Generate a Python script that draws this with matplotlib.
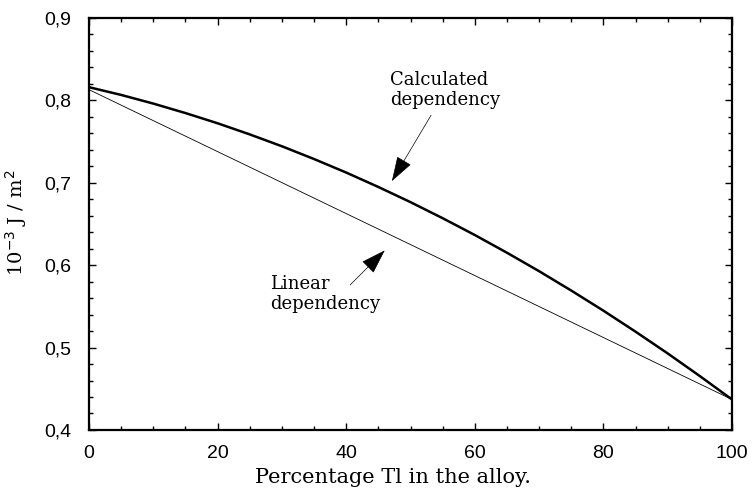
import numpy as np
import matplotlib.pyplot as plt
from matplotlib.ticker import MultipleLocator, FuncFormatter

# percentage of Tl in the alloy
tl_pct = [0, 5, 10, 15, 20, 25, 30, 35, 40, 45, 50,
          55, 60, 65, 70, 75, 80, 85, 90, 95, 100]
# calculated surface energy values
calc_energy = [0.8160, 0.8066, 0.7961, 0.7846, 0.7722, 0.7587, 0.7443, 0.7288, 0.7124, 0.6949,
               0.6765, 0.6570, 0.6366, 0.6151, 0.5927, 0.5692, 0.5448, 0.5193, 0.4929, 0.4654,
               0.4370]
# straight line between the pure metals
lin_pct = [0, 100]
lin_energy = [0.813, 0.437]

serif = "DejaVu Serif"
sans = "Liberation Sans"

fig = plt.figure(figsize=(7.52, 4.94), dpi=100)
ax = fig.add_axes([0.1184, 0.1296, 0.855, 0.834])

ax.plot(tl_pct, calc_energy, color="black", lw=1.8, solid_capstyle="butt")
ax.plot(lin_pct, lin_energy, color="black", lw=0.6)

ax.set_xlim(0, 100)
ax.set_ylim(0.4, 0.9)
ax.xaxis.set_major_locator(MultipleLocator(20))
ax.xaxis.set_minor_locator(MultipleLocator(5))
ax.yaxis.set_major_locator(MultipleLocator(0.1))
ax.yaxis.set_minor_locator(MultipleLocator(0.02))
ax.yaxis.set_major_formatter(FuncFormatter(lambda v, p: f"{v:.1f}".replace(".", ",")))

ax.tick_params(which="both", direction="in", top=True, right=True, width=1.0)
ax.tick_params(which="major", length=5)
ax.tick_params(which="minor", length=3)
ax.tick_params(axis="x", pad=11)
ax.tick_params(axis="y", pad=13)
for lab in ax.get_xticklabels() + ax.get_yticklabels():
    lab.set_fontfamily(sans)
    lab.set_fontsize(14)
for s in ax.spines.values():
    s.set_linewidth(1.6)

ax.set_xlabel("Percentage Tl in the alloy.", fontfamily=serif, fontsize=15)
ax.xaxis.set_label_coords(0.473, -0.092)
fig.text(0.021, 0.549, "10$^{-3}$ J / m$^{2}$", rotation=90, ha="center", va="center",
         fontfamily=serif, fontsize=14)

arrow = dict(arrowstyle="-|>,head_length=0.8,head_width=0.26", color="black", lw=0.5,
             mutation_scale=20, shrinkA=0, shrinkB=0)
ax.text(46.8, 0.8126, "Calculated\ndependency", ha="left", va="center",
        fontfamily=serif, fontsize=13, linespacing=1.1)
ax.annotate("", xy=(47.1, 0.702), xytext=(53.2, 0.782), arrowprops=arrow)
ax.annotate("", xy=(46.0, 0.618), xytext=(40.6, 0.576), arrowprops=arrow)
ax.text(28.1, 0.565, "Linear\ndependency", ha="left", va="center",
        fontfamily=serif, fontsize=13, linespacing=1.1)

fig.savefig("out.png", dpi=100)
